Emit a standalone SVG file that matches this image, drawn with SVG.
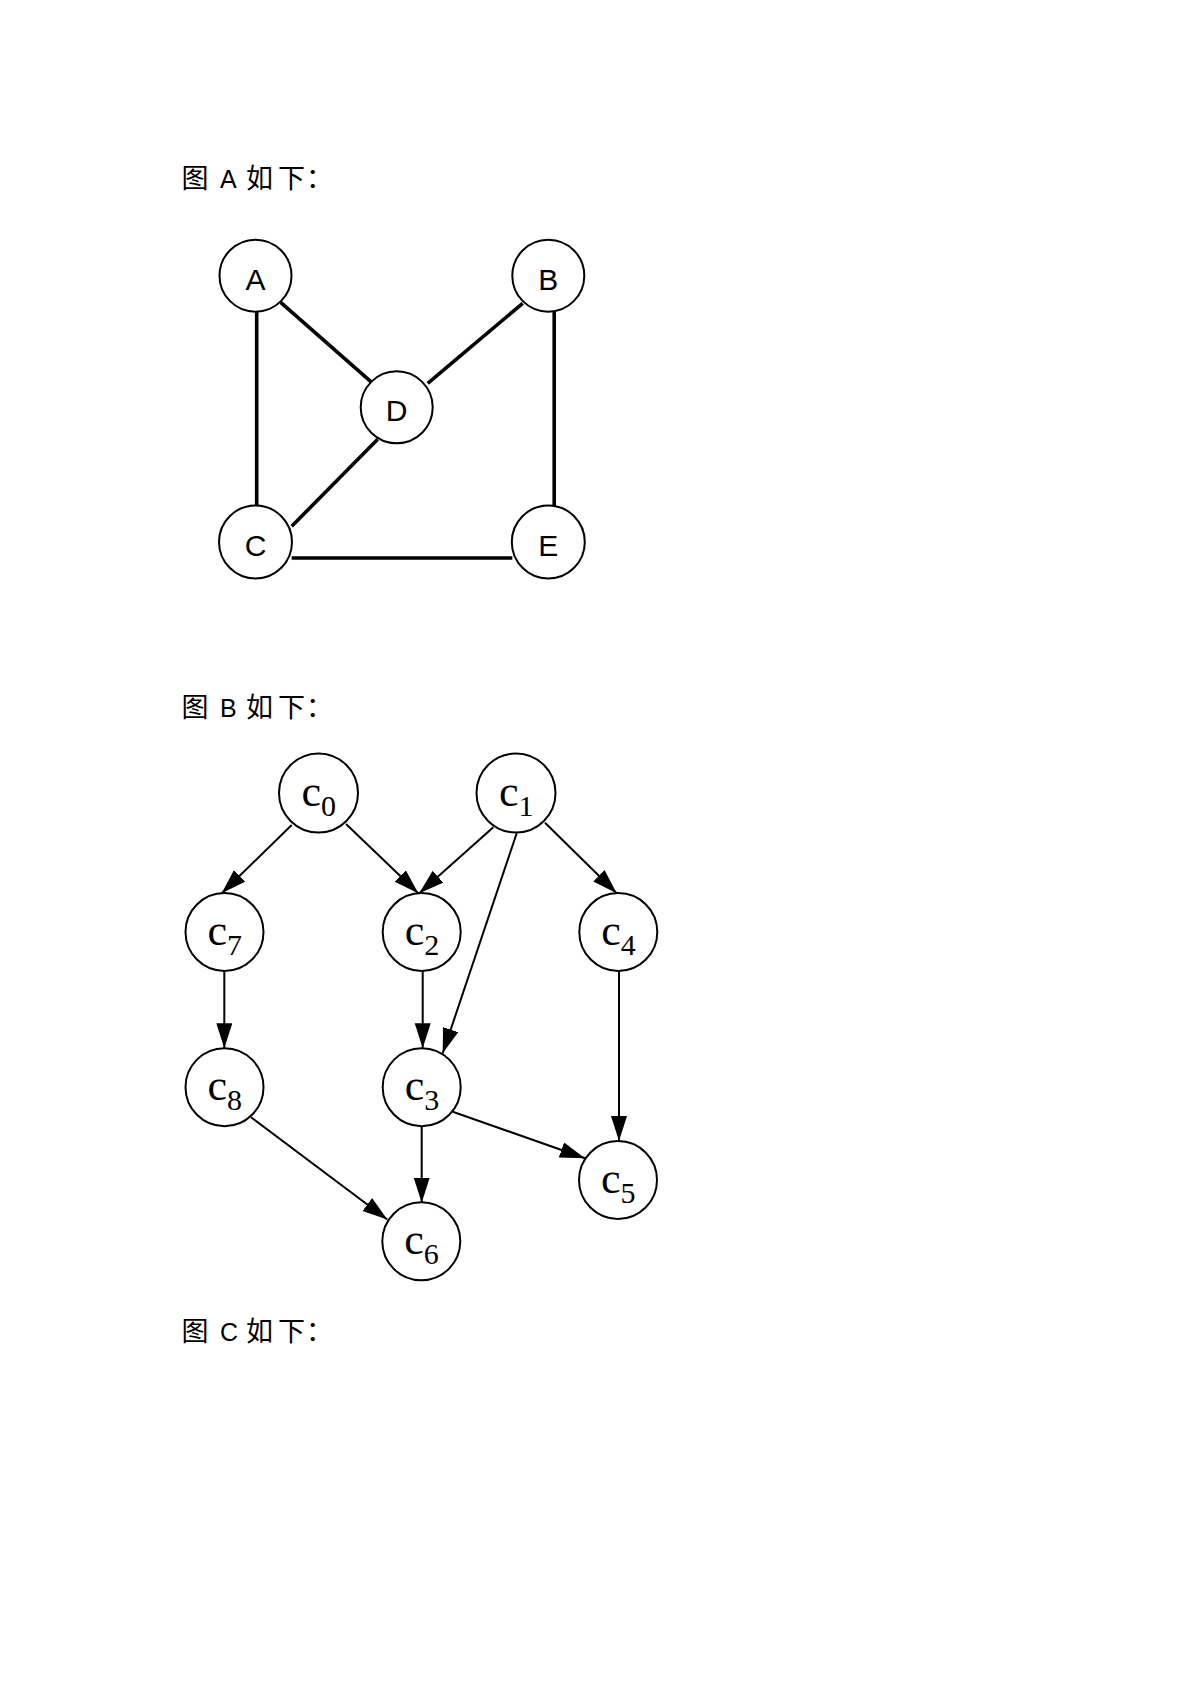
<svg xmlns="http://www.w3.org/2000/svg" width="1191" height="1684" viewBox="0 0 1191 1684">
<style>
.title{font-size:27px;fill:#000}
.na{fill:#fff;stroke:#000;stroke-width:2}
.la{font-size:30px;text-anchor:middle;fill:#000}
.ea{stroke:#000;stroke-width:3.6;stroke-linecap:butt}
.eb{stroke:#000;stroke-width:2;marker-end:url(#arr)}
.lc{font-size:44px;fill:#000}
.ls{font-size:30px;fill:#000}
</style>
<defs>
<marker id="arr" markerUnits="userSpaceOnUse" markerWidth="26" markerHeight="17" refX="25" refY="8" orient="auto">
<path d="M0,0 L25,8 L0,16 Z" fill="#000"/>
</marker>
</defs>
<rect width="1191" height="1684" fill="#fff"/>
<g id="titleA" class="title" font-family="'Noto Sans CJK SC', sans-serif">
<text x="181.5" y="187.5">图</text>
<text x="220" y="187.5" font-family="'Liberation Sans', Arial, sans-serif" font-size="25">A</text>
<text x="246" y="187.5">如</text>
<text x="278" y="187.5">下</text>
<text x="306" y="187.5">：</text>
</g>
<g id="connectorsA">
<line class="ea" x1="256.7" y1="312" x2="256.7" y2="506"/>
<line class="ea" x1="280.7" y1="302.3" x2="371.7" y2="382.3"/>
<line class="ea" x1="522.7" y1="303.3" x2="427.7" y2="383.3"/>
<line class="ea" x1="377.7" y1="439.3" x2="291.7" y2="526.3"/>
<line class="ea" x1="554.2" y1="312" x2="554.2" y2="506"/>
<line class="ea" x1="291.7" y1="558" x2="512.3" y2="558"/>
</g>
<g font-family="'Liberation Sans', Arial, sans-serif">
<g id="nodeA"><circle class="na" cx="255.5" cy="275.7" r="36"/><text class="la" x="255.5" y="289.5">A</text></g>
<g id="nodeB"><circle class="na" cx="548.3" cy="275.7" r="36"/><text class="la" x="548.3" y="289.5">B</text></g>
<g id="nodeD"><circle class="na" cx="396.7" cy="407.3" r="36"/><text class="la" x="396.7" y="421">D</text></g>
<g id="nodeC"><circle class="na" cx="255.5" cy="542" r="36.5"/><text class="la" x="255.5" y="555.7">C</text></g>
<g id="nodeE"><circle class="na" cx="548.3" cy="542" r="36.5"/><text class="la" x="548.3" y="555.7">E</text></g>
</g>

<g id="titleB" class="title" font-family="'Noto Sans CJK SC', sans-serif">
<text x="181.5" y="717">图</text>
<text x="220" y="717" font-family="'Liberation Sans', Arial, sans-serif" font-size="25">B</text>
<text x="246" y="717">如</text>
<text x="278" y="717">下</text>
<text x="306" y="717">：</text>
</g>
<g id="connectorsB">
<line class="eb" x1="291.7" y1="825" x2="221.7" y2="893.3"/>
<line class="eb" x1="346" y1="824" x2="418.3" y2="893.3"/>
<line class="eb" x1="493.3" y1="827.3" x2="419.3" y2="893.3"/>
<line class="eb" x1="545" y1="822.7" x2="616.7" y2="893.3"/>
<line class="eb" x1="516.7" y1="833.3" x2="442.7" y2="1053.3"/>
<line class="eb" x1="224.3" y1="971" x2="224.3" y2="1048.3"/>
<line class="eb" x1="422.7" y1="971" x2="422.7" y2="1048.3"/>
<line class="eb" x1="619" y1="971" x2="619" y2="1141"/>
<line class="eb" x1="452.7" y1="1111.7" x2="585" y2="1158.3"/>
<line class="eb" x1="421.7" y1="1126" x2="421.7" y2="1202.7"/>
<line class="eb" x1="251" y1="1117.3" x2="387.3" y2="1219.5"/>
</g>
<g font-family="'Liberation Serif', 'Times New Roman', serif">
<g id="c0"><circle class="na" cx="318.5" cy="793" r="39.5"/><text class="lc" x="301.5" y="805.5">c</text><text class="ls" x="321" y="815.5">0</text></g>
<g id="c1"><circle class="na" cx="516" cy="793" r="39.5"/><text class="lc" x="499" y="805.5">c</text><text class="ls" x="518.5" y="815.5">1</text></g>
<g id="c7"><circle class="na" cx="224.5" cy="932" r="39"/><text class="lc" x="207.5" y="944.5">c</text><text class="ls" x="227" y="954.5">7</text></g>
<g id="c2"><circle class="na" cx="421.7" cy="932" r="39"/><text class="lc" x="404.7" y="944.5">c</text><text class="ls" x="424.2" y="954.5">2</text></g>
<g id="c4"><circle class="na" cx="618.3" cy="932" r="39"/><text class="lc" x="601.3" y="944.5">c</text><text class="ls" x="620.8" y="954.5">4</text></g>
<g id="c8"><circle class="na" cx="224.5" cy="1087.2" r="39"/><text class="lc" x="207.5" y="1099.7">c</text><text class="ls" x="227" y="1109.7">8</text></g>
<g id="c3"><circle class="na" cx="421.7" cy="1087.2" r="39"/><text class="lc" x="404.7" y="1099.7">c</text><text class="ls" x="424.2" y="1109.7">3</text></g>
<g id="c5"><circle class="na" cx="618" cy="1180" r="39"/><text class="lc" x="601" y="1192.5">c</text><text class="ls" x="620.5" y="1202.5">5</text></g>
<g id="c6"><circle class="na" cx="421.3" cy="1241.3" r="39"/><text class="lc" x="404.3" y="1253.8">c</text><text class="ls" x="423.8" y="1263.8">6</text></g>
</g>

<g id="titleC" class="title" font-family="'Noto Sans CJK SC', sans-serif">
<text x="181.5" y="1341">图</text>
<text x="220" y="1341" font-family="'Liberation Sans', Arial, sans-serif" font-size="25">C</text>
<text x="246" y="1341">如</text>
<text x="278" y="1341">下</text>
<text x="306" y="1341">：</text>
</g>
</svg>
